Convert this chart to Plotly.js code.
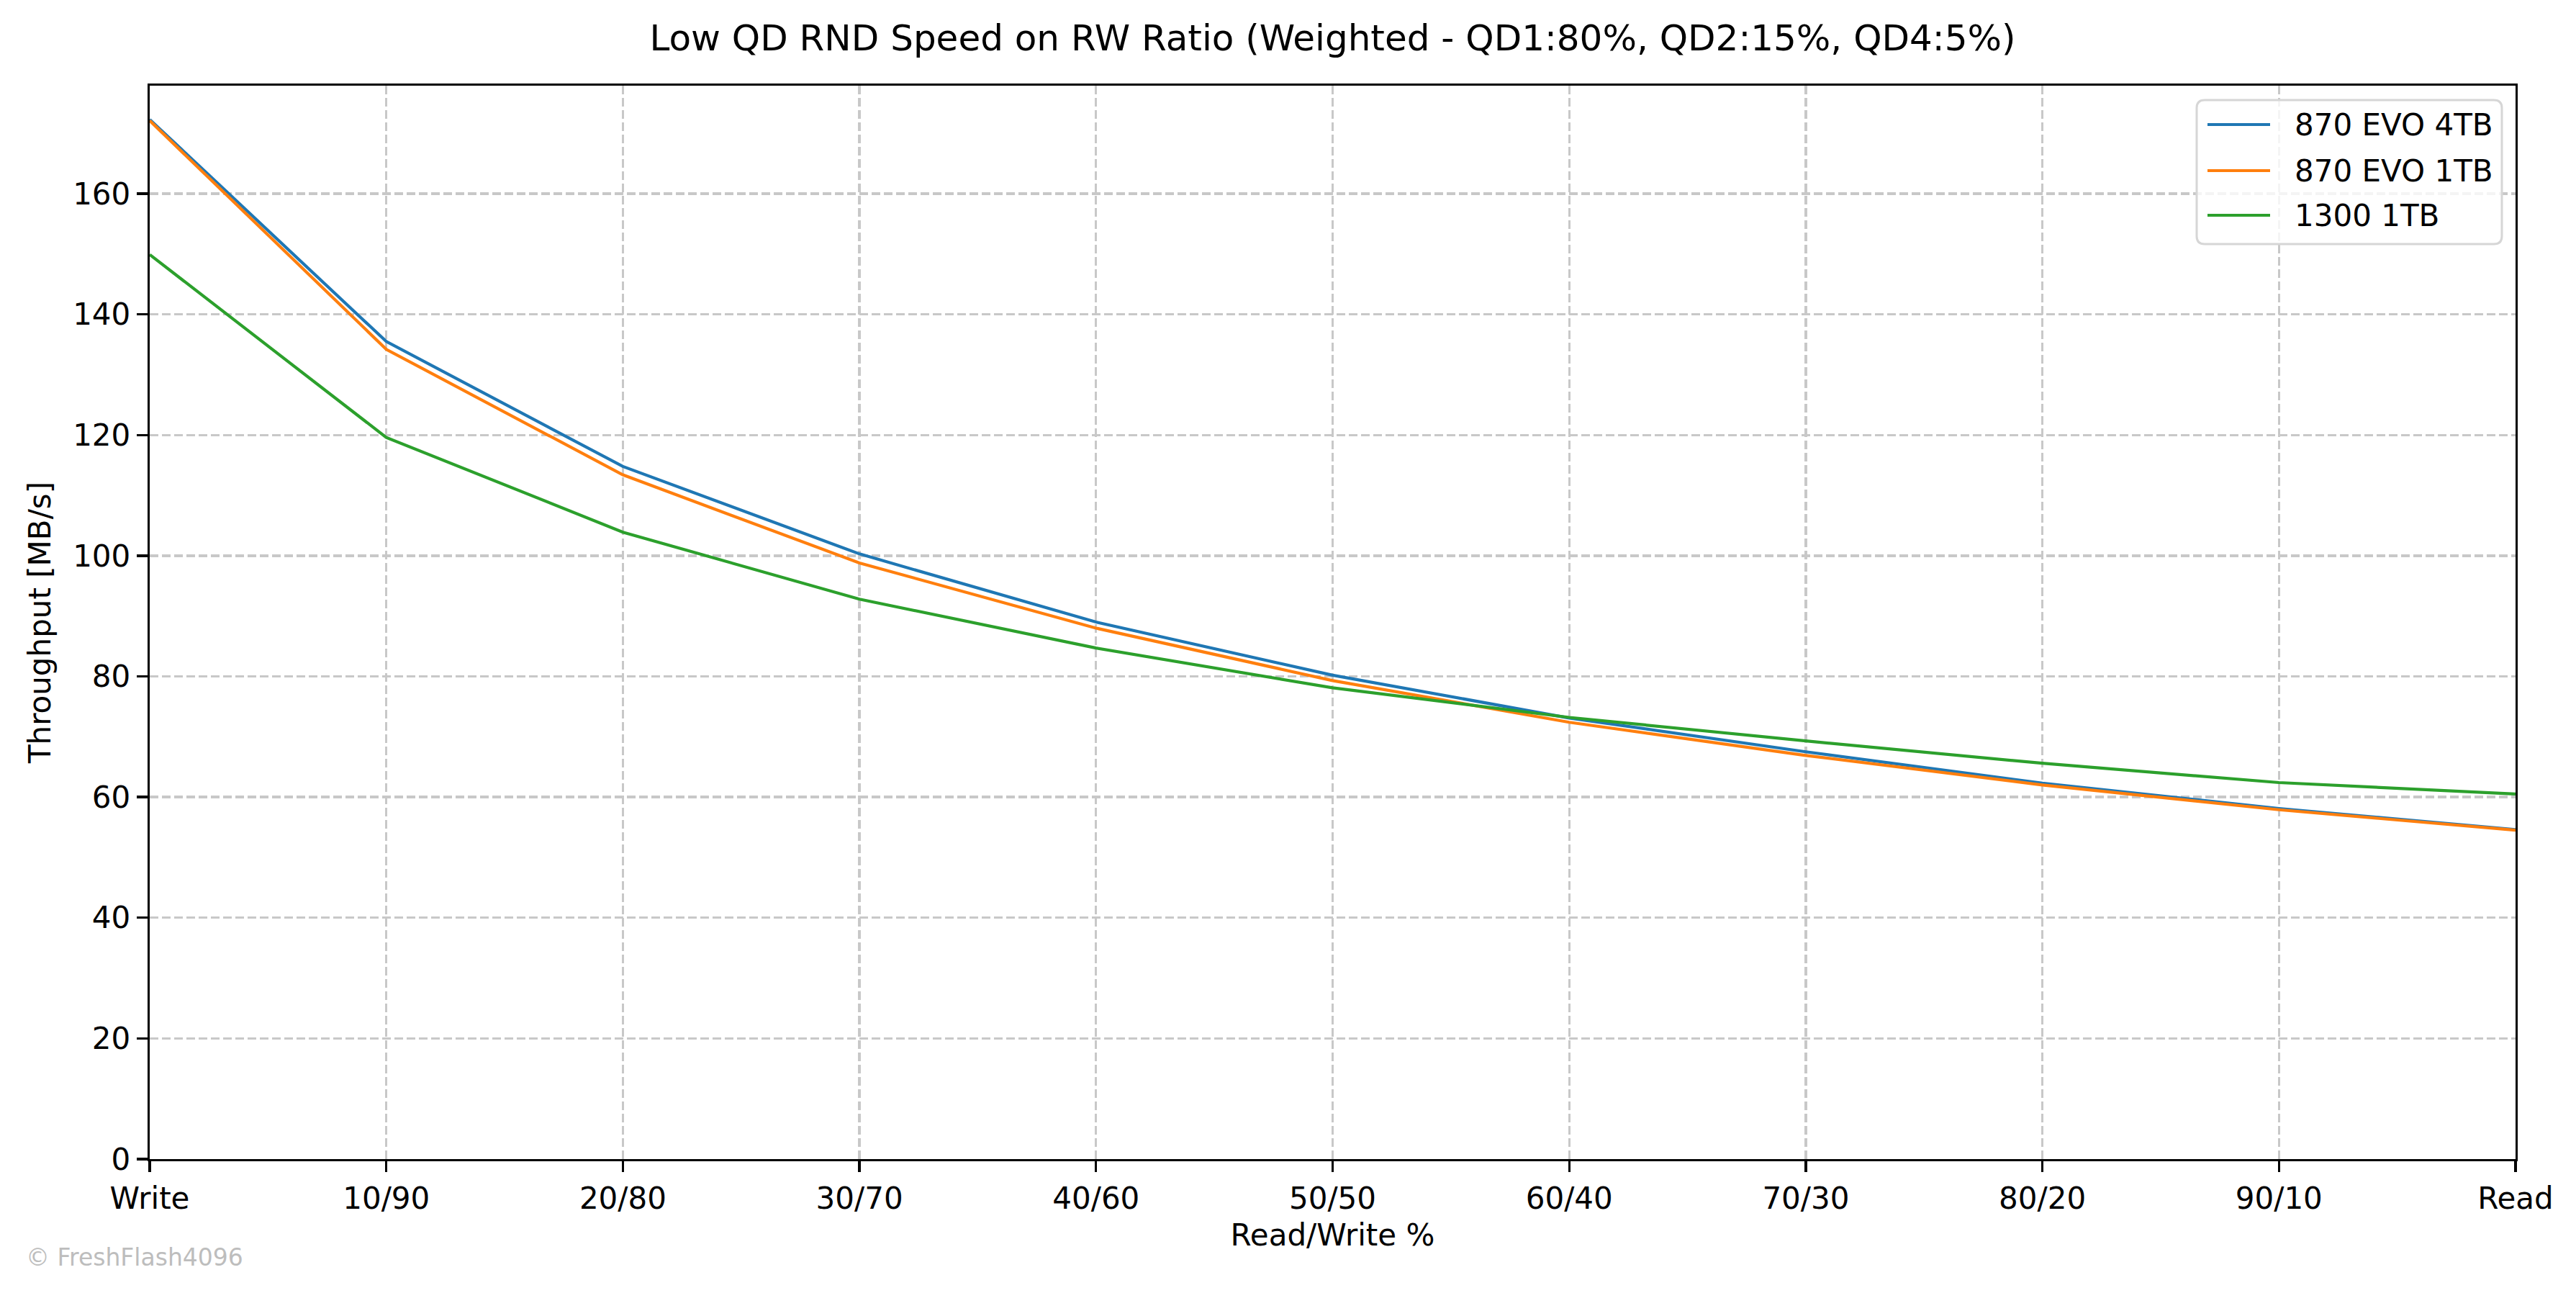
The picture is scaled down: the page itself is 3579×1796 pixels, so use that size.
<!DOCTYPE html>
<html>
<head>
<meta charset="utf-8">
<script src="https://cdn.plot.ly/plotly-3.0.1.min.js"></script>
<style>
  html, body { margin: 0; padding: 0; background: #fff; }
  #chart { width: 3579px; height: 1796px; }
</style>
</head>
<body>
<div id="chart"></div>
<script>
// RW ratio steps along the x axis
const ratios = ['Write', '10/90', '20/80', '30/70', '40/60', '50/50', '60/40', '70/30', '80/20', '90/10', 'Read'];

// throughput in MB/s
const evo4tb = [172.3, 135.5, 114.8, 100.3, 89.0, 80.2, 73.1, 67.5, 62.3, 58.1, 54.6];
const evo1tb = [172.1, 134.2, 113.4, 98.8, 88.0, 79.3, 72.4, 66.9, 62.0, 57.9, 54.5];
const wd1300 = [149.9, 119.6, 103.9, 92.8, 84.7, 78.1, 73.2, 69.3, 65.6, 62.4, 60.5];

const seriesNames = ['870 EVO 4TB', '870 EVO 1TB', '1300 1TB'];
const seriesColors = ['#1f77b4', '#ff7f0e', '#2ca02c'];

const font = 'DejaVu Sans, Liberation Sans, sans-serif';

// plot box in pixels (matches the margins below)
const W = 3579, H = 1796;
const M = { l: 208, r: 84, t: 119, b: 186 };
const plotW = W - M.l - M.r, plotH = H - M.t - M.b;
const px2x = (px) => (px - M.l) / plotW;
const px2y = (py) => (H - M.b - py) / plotH;

const data = [evo4tb, evo1tb, wd1300].map((vals, i) => ({
    type: 'scatter',
    mode: 'lines',
    name: seriesNames[i],
    x: ratios,
    y: vals,
    line: { color: seriesColors[i], width: 4.2 },
    showlegend: false,
    hoverinfo: 'x+y+name'
}));

const axisCommon = {
    showline: true,
    linecolor: '#000',
    linewidth: 3.3,
    mirror: true,
    ticks: 'outside',
    ticklen: 15,
    tickwidth: 3.3,
    tickcolor: '#000',
    tickfont: { family: font, size: 42, color: '#000' },
    showgrid: true,
    gridcolor: '#c8c8c8',
    gridwidth: 3.3,
    griddash: '12px,5px',
    zeroline: false
};

// matplotlib-style legend box, drawn by hand so the line samples are long
const legBox = { x0: 3052, x1: 3476, y0: 139, y1: 339, r: 11 };
const legRows = [173, 237, 299];
const roundedRect = (b) => {
    const rx = b.r / plotW, ry = b.r / plotH;
    const x0 = px2x(b.x0), x1 = px2x(b.x1), yT = px2y(b.y0), yB = px2y(b.y1);
    return `M${x0 + rx},${yT} L${x1 - rx},${yT} Q${x1},${yT} ${x1},${yT - ry} ` +
           `L${x1},${yB + ry} Q${x1},${yB} ${x1 - rx},${yB} L${x0 + rx},${yB} ` +
           `Q${x0},${yB} ${x0},${yB + ry} L${x0},${yT - ry} Q${x0},${yT} ${x0 + rx},${yT} Z`;
};

const shapes = [{
    type: 'path',
    xref: 'paper', yref: 'paper',
    path: roundedRect(legBox),
    fillcolor: 'rgba(255,255,255,0.8)',
    line: { color: '#d6d6d6', width: 3 },
    layer: 'above'
}];
const annotations = [];
seriesNames.forEach((name, i) => {
    shapes.push({
        type: 'line',
        xref: 'paper', yref: 'paper',
        x0: px2x(3067), x1: px2x(3154),
        y0: px2y(legRows[i]), y1: px2y(legRows[i]),
        line: { color: seriesColors[i], width: 4.2 },
        layer: 'above'
    });
    annotations.push({
        text: name,
        xref: 'paper', yref: 'paper',
        x: px2x(3186), y: px2y(legRows[i]),
        xanchor: 'left', yanchor: 'middle',
        showarrow: false,
        font: { family: font, size: 42, color: '#000' }
    });
});

annotations.push({
    text: '© FreshFlash4096',
    xref: 'paper', yref: 'paper',
    x: px2x(34),
    y: px2y(1747),
    xanchor: 'left',
    yanchor: 'middle',
    showarrow: false,
    font: { family: font, size: 33, color: '#bdbdbd' }
});

const layout = {
    width: W,
    height: H,
    paper_bgcolor: '#fff',
    plot_bgcolor: '#fff',
    margin: M,
    font: { family: font, color: '#000' },
    title: {
        text: 'Low QD RND Speed on RW Ratio (Weighted - QD1:80%, QD2:15%, QD4:5%)',
        font: { family: font, size: 50, color: '#000' },
        xref: 'paper',
        x: 0.5,
        xanchor: 'center',
        y: 1 - 52 / H,
        yanchor: 'middle'
    },
    xaxis: Object.assign({}, axisCommon, {
        type: 'category',
        range: [0, ratios.length - 1],
        title: { text: 'Read/Write %', font: { family: font, size: 42 }, standoff: 14 }
    }),
    yaxis: Object.assign({}, axisCommon, {
        range: [0, 177.9],
        tick0: 0,
        dtick: 20,
        title: { text: 'Throughput [MB/s]', font: { family: font, size: 42 }, standoff: 18 }
    }),
    shapes: shapes,
    annotations: annotations,
    showlegend: false
};

Plotly.newPlot('chart', data, layout, { displayModeBar: false, staticPlot: true });
</script>
</body>
</html>
